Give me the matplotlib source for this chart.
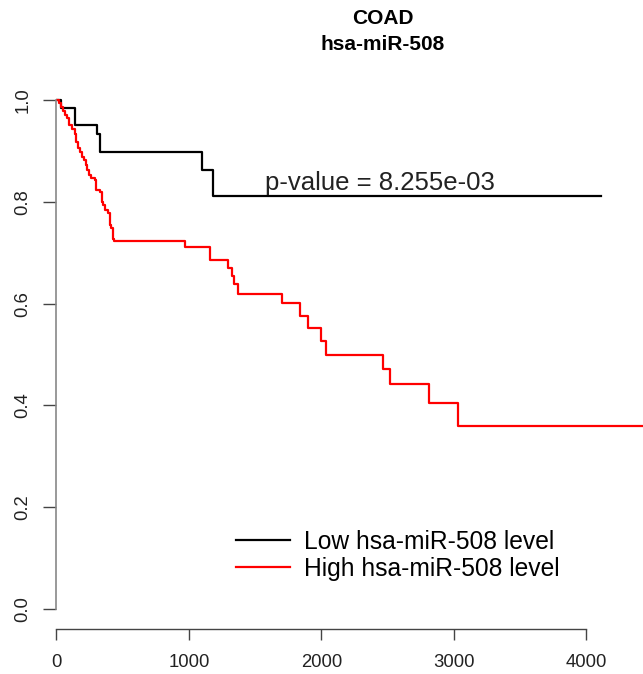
import numpy as np
import matplotlib
matplotlib.use("Agg")
import matplotlib.pyplot as plt

plt.rcParams["font.family"] = ["Liberation Sans", "DejaVu Sans"]

# Kaplan-Meier steps (time in days, survival after the drop)
low_times = [0, 36, 140, 303, 331, 1096, 1184, 4112]
low_surv = [1.0, 0.985, 0.951, 0.934, 0.898, 0.862, 0.811, 0.811]

high_times = [0, 19, 34, 49, 64, 79, 91, 117, 136, 151, 166, 181, 193, 208,
              223, 234, 245, 261, 291, 302, 329, 340, 351, 366, 389, 404,
              415, 427, 438, 970, 1159, 1298, 1328, 1343, 1373, 1701, 1839,
              1902, 1995, 2035, 2464, 2519, 2813, 3030, 4600]
high_surv = [1.0, 0.994, 0.986, 0.980, 0.971, 0.965, 0.951, 0.943, 0.933,
             0.919, 0.906, 0.898, 0.888, 0.882, 0.872, 0.862, 0.853, 0.847,
             0.843, 0.823, 0.819, 0.800, 0.794, 0.784, 0.778, 0.754, 0.749,
             0.727, 0.723, 0.712, 0.685, 0.671, 0.654, 0.639, 0.620, 0.601,
             0.576, 0.553, 0.527, 0.500, 0.472, 0.441, 0.404, 0.360, 0.360]

group_labels = ["Low hsa-miR-508 level", "High hsa-miR-508 level"]
cancer = "COAD"
mirna = "hsa-miR-508"
p_text = "p-value = 8.255e-03"
x_ticks = [0, 1000, 2000, 3000, 4000]
y_ticks = [0.0, 0.2, 0.4, 0.6, 0.8, 1.0]

W, H = 643, 674
fig = plt.figure(figsize=(W / 100, H / 100), dpi=100)
ax = fig.add_axes([56.5 / W, 1 - 629 / H, 1 - 56.5 / W, (629 - 80) / H])

ax.step(low_times, low_surv, where="post", color="black", lw=1.6,
        label=group_labels[0])
ax.step(high_times, high_surv, where="post", color="#ff0000", lw=1.6,
        label=group_labels[1])

ax.set_xlim(0, (W - 56.5) / 0.1324)
ax.set_ylim(-0.04, 1.04)

for s in ["top", "right"]:
    ax.spines[s].set_visible(False)
ax.spines["left"].set_bounds(0, 1)
ax.spines["bottom"].set_bounds(0, 4000)
ax.spines["left"].set_color("#888888")
ax.spines["bottom"].set_color("#444444")
ax.spines["left"].set_linewidth(1.2)
ax.spines["bottom"].set_linewidth(1.0)

ax.set_xticks(x_ticks)
ax.set_xticklabels([str(t) for t in x_ticks])
ax.set_yticks(y_ticks)
ax.set_yticklabels([f"{t:.1f}" for t in y_ticks], rotation=90, va="center")
ax.tick_params(axis="x", length=8, width=1.0, color="#444444", pad=10,
               labelsize=13.3, labelcolor="#222222")
ax.tick_params(axis="y", length=9.4, width=1.0, color="#444444", pad=8.5,
               labelsize=13.3, labelcolor="#222222")

ax.text(2446, 0.823, p_text, ha="center", va="baseline", fontsize=18.5,
        color="#222222")

ax.legend(loc="upper left", bbox_to_anchor=(236 / W, 1 - 530 / H),
          bbox_transform=fig.transFigure, frameon=False, fontsize=17.7,
          handlelength=2.2, handletextpad=0.55, labelspacing=0.12,
          borderpad=0, borderaxespad=0)

fig.text(383 / W, 1 - 18 / H, cancer, ha="center", va="center",
         fontsize=15, fontweight="bold")
fig.text(383 / W, 1 - 45 / H, mirna, ha="center", va="center",
         fontsize=15, fontweight="bold")

fig.savefig("out.png", dpi=100)
